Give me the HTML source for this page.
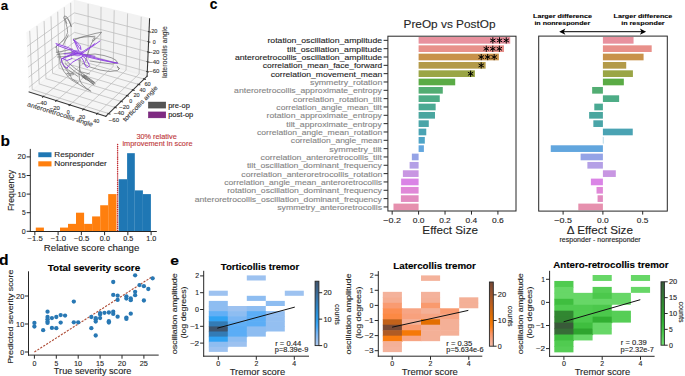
<!DOCTYPE html>
<html><head><meta charset="utf-8"><title>figure</title>
<style>html,body{margin:0;padding:0;background:#fff;} svg{display:block;} text{font-family:"Liberation Sans", sans-serif;}</style>
</head><body>
<svg width="685" height="376" viewBox="0 0 685 376" fill="#262626">
<rect x="0" y="0" width="685" height="376" fill="#fff"/>
<text x="0.65" y="9.60" font-size="13.27" font-weight="bold" fill="#000" stroke="#000" stroke-width="0.12" textLength="7.43" lengthAdjust="spacingAndGlyphs">a</text>
<text x="0.50" y="145.90" font-size="13.73" font-weight="bold" fill="#000" stroke="#000" stroke-width="0.12" textLength="9.44" lengthAdjust="spacingAndGlyphs">b</text>
<text x="209.85" y="9.30" font-size="14.23" font-weight="bold" fill="#000" stroke="#000" stroke-width="0.12" textLength="7.68" lengthAdjust="spacingAndGlyphs">c</text>
<text x="-0.93" y="264.50" font-size="13.79" font-weight="bold" fill="#000" stroke="#000" stroke-width="0.12" textLength="9.56" lengthAdjust="spacingAndGlyphs">d</text>
<text x="170.17" y="265.40" font-size="13.27" font-weight="bold" fill="#000" stroke="#000" stroke-width="0.12" textLength="8.72" lengthAdjust="spacingAndGlyphs">e</text>
<svg x="0" y="0" width="685" height="376" viewBox="0 0 493.2 270.72" overflow="visible"><g id="figure_1"> <g id="patch_1"> <path d="M 0 270.72 L 493.2 270.72 L 493.2 0 L 0 0 L 0 270.72 z " style="display:none"/> </g> <g id="patch_2"> <path d="M 13.615639 90.572908 L 112.154987 90.572908 L 112.154987 -1 M 13.615639 -1 L 13.615639 90.572908 " style="display:none"/> </g> <g id="pane3d_1"> <g id="patch_3"> <path d="M 20.960307 66.233599 L 53.797082 40.110236 L 53.373541 0.340975 L 19.036645 23.885267 " style="fill: #f2f2f2; opacity: 0.5; stroke: #f2f2f2; stroke-linejoin: miter"/> </g> </g> <g id="pane3d_2"> <g id="patch_4"> <path d="M 53.797082 40.110236 L 105.91172 54.816973 L 107.696112 13.574518 L 53.373541 0.340975 " style="fill: #e6e6e6; opacity: 0.5; stroke: #e6e6e6; stroke-linejoin: miter"/> </g> </g> <g id="pane3d_3"> <g id="patch_5"> <path d="M 20.960307 66.233599 L 76.205759 83.788677 L 105.91172 54.816973 L 53.797082 40.110236 " style="fill: #ececec; opacity: 0.5; stroke: #ececec; stroke-linejoin: miter"/> </g> </g> <g id="grid3d_1"> <g id="Line3DCollection_1"> <path d="M 31.186179 69.483024 L 63.47947 42.842603 L 63.4492 2.79551 " style="fill:none;stroke:#bcbcbc;stroke-width:0.55"/> <path d="M 40.636507 72.486009 L 72.412938 45.363626 L 72.752368 5.061859 " style="fill:none;stroke:#bcbcbc;stroke-width:0.55"/> <path d="M 50.266198 75.545989 L 81.501573 47.928436 L 82.223879 7.369217 " style="fill:none;stroke:#bcbcbc;stroke-width:0.55"/> <path d="M 60.080408 78.664603 L 90.749455 50.538186 L 91.868342 9.718708 " style="fill:none;stroke:#bcbcbc;stroke-width:0.55"/> <path d="M 70.084491 81.843552 L 100.160806 53.194067 L 101.69054 12.111498 " style="fill:none;stroke:#bcbcbc;stroke-width:0.55"/> </g> </g> <g id="grid3d_2"> <g id="Line3DCollection_2"> <path d="M 21.406861 22.260046 L 23.219245 64.436496 L 78.258046 81.787118 " style="fill:none;stroke:#bcbcbc;stroke-width:0.55"/> <path d="M 26.645919 18.667703 L 28.216392 60.461005 L 82.793447 77.36382 " style="fill:none;stroke:#bcbcbc;stroke-width:0.55"/> <path d="M 31.748505 15.168937 L 33.088743 56.584797 L 87.209497 73.056924 " style="fill:none;stroke:#bcbcbc;stroke-width:0.55"/> <path d="M 36.719883 11.760137 L 37.840914 52.804198 L 91.510846 68.861894 " style="fill:none;stroke:#bcbcbc;stroke-width:0.55"/> <path d="M 41.565051 8.437879 L 42.477297 49.115713 L 95.701904 64.774428 " style="fill:none;stroke:#bcbcbc;stroke-width:0.55"/> <path d="M 46.288753 5.198907 L 47.002075 45.516018 L 99.786861 60.790441 " style="fill:none;stroke:#bcbcbc;stroke-width:0.55"/> <path d="M 50.895502 2.040129 L 51.419228 42.001943 L 103.769695 56.906053 " style="fill:none;stroke:#bcbcbc;stroke-width:0.55"/> </g> </g> <g id="grid3d_3"> <g id="Line3DCollection_3"> <path d="M 106.05312 51.548807 L 53.763456 36.952818 L 20.808096 62.882753 " style="fill:none;stroke:#bcbcbc;stroke-width:0.55"/> <path d="M 106.356955 44.526297 L 53.691238 30.171775 L 20.480899 55.679706 " style="fill:none;stroke:#bcbcbc;stroke-width:0.55"/> <path d="M 106.665236 37.401039 L 53.618015 23.296387 L 20.148733 48.367247 " style="fill:none;stroke:#bcbcbc;stroke-width:0.55"/> <path d="M 106.97806 30.170762 L 53.543767 16.324671 L 19.811482 40.942865 " style="fill:none;stroke:#bcbcbc;stroke-width:0.55"/> <path d="M 107.29553 22.833126 L 53.468471 9.254588 L 19.46903 33.40397 " style="fill:none;stroke:#bcbcbc;stroke-width:0.55"/> </g> </g> <g id="axis3d_1"> <g id="line2d_1"> <path d="M 20.960307 66.233599 L 76.205759 83.788677 " style="fill:none;stroke:#333;stroke-width:0.75;stroke-linecap:square"/> </g> <g id="xtick_1"> <g id="line2d_2"> <path d="M 31.467825 69.250679 L 30.621654 69.94873 " style="fill:none;stroke:#333;stroke-width:0.75;stroke-linecap:square"/> </g> </g> <g id="xtick_2"> <g id="line2d_3"> <path d="M 40.913861 72.249277 L 40.080574 72.960518 " style="fill:none;stroke:#333;stroke-width:0.75;stroke-linecap:square"/> </g> </g> <g id="xtick_3"> <g id="line2d_4"> <path d="M 50.539045 75.304744 L 49.719287 76.029554 " style="fill:none;stroke:#333;stroke-width:0.75;stroke-linecap:square"/> </g> </g> <g id="xtick_4"> <g id="line2d_5"> <path d="M 60.348524 78.418715 L 59.542969 79.157485 " style="fill:none;stroke:#333;stroke-width:0.75;stroke-linecap:square"/> </g> </g> <g id="xtick_5"> <g id="line2d_6"> <path d="M 70.347641 81.592886 L 69.556995 82.346023 " style="fill:none;stroke:#333;stroke-width:0.75;stroke-linecap:square"/> </g> </g> </g> <g id="axis3d_2"> <g id="line2d_7"> <path d="M 105.91172 54.816973 L 76.205759 83.788677 " style="fill:none;stroke:#333;stroke-width:0.75;stroke-linecap:square"/> </g> <g id="xtick_6"> <g id="line2d_8"> <path d="M 77.793641 81.640718 L 79.188086 82.080307 " style="fill:none;stroke:#333;stroke-width:0.75;stroke-linecap:square"/> </g> </g> <g id="xtick_7"> <g id="line2d_9"> <path d="M 82.333257 77.221297 L 83.715031 77.64924 " style="fill:none;stroke:#333;stroke-width:0.75;stroke-linecap:square"/> </g> </g> <g id="xtick_8"> <g id="line2d_10"> <path d="M 86.753462 72.918126 L 88.122745 73.334879 " style="fill:none;stroke:#333;stroke-width:0.75;stroke-linecap:square"/> </g> </g> <g id="xtick_9"> <g id="line2d_11"> <path d="M 91.058906 68.726677 L 92.415876 69.132673 " style="fill:none;stroke:#333;stroke-width:0.75;stroke-linecap:square"/> </g> </g> <g id="xtick_10"> <g id="line2d_12"> <path d="M 95.254002 64.642655 L 96.598836 65.038306 " style="fill:none;stroke:#333;stroke-width:0.75;stroke-linecap:square"/> </g> </g> <g id="xtick_11"> <g id="line2d_13"> <path d="M 99.342937 60.661982 L 100.675811 61.047678 " style="fill:none;stroke:#333;stroke-width:0.75;stroke-linecap:square"/> </g> </g> <g id="xtick_12"> <g id="line2d_14"> <path d="M 103.329692 56.780784 L 104.65078 57.156896 " style="fill:none;stroke:#333;stroke-width:0.75;stroke-linecap:square"/> </g> </g> </g> <g id="axis3d_3"> <g id="line2d_15"> <path d="M 105.91172 54.816973 L 107.696112 13.574518 " style="fill:none;stroke:#333;stroke-width:0.75;stroke-linecap:square"/> </g> <g id="xtick_13"> <g id="line2d_16"> <path d="M 105.613701 51.426148 L 106.933032 51.794423 " style="fill:none;stroke:#333;stroke-width:0.75;stroke-linecap:square"/> </g> </g> <g id="xtick_14"> <g id="line2d_17"> <path d="M 105.914222 44.405626 L 107.243512 44.767936 " style="fill:none;stroke:#333;stroke-width:0.75;stroke-linecap:square"/> </g> </g> <g id="xtick_15"> <g id="line2d_18"> <path d="M 106.219138 37.282427 L 107.558539 37.638559 " style="fill:none;stroke:#333;stroke-width:0.75;stroke-linecap:square"/> </g> </g> <g id="xtick_16"> <g id="line2d_19"> <path d="M 106.528546 30.054282 L 107.878212 30.404013 " style="fill:none;stroke:#333;stroke-width:0.75;stroke-linecap:square"/> </g> </g> <g id="xtick_17"> <g id="line2d_20"> <path d="M 106.842546 22.718855 L 108.202637 23.061955 " style="fill:none;stroke:#333;stroke-width:0.75;stroke-linecap:square"/> </g> </g> </g> <g id="axes_1"/> </g> </svg>
<path d="M71.2 26.5 L69.6 21.5 L67.0 17.0 L64.6 15.9 L63.7 17.6 L65.6 22.0 L67.2 28.0 L67.6 32.5 L66.0 36.5 L61.5 42.0 L57.5 45.5 L55.5 47.5" fill="none" stroke="#727272" stroke-width="0.7" stroke-linejoin="round" stroke-linecap="round" />
<path d="M71.2 26.5 L70.3 24.0 L68.4 20.0 L66.2 17.8 L65.2 18.6 L66.8 23.5" fill="none" stroke="#727272" stroke-width="0.7" stroke-linejoin="round" stroke-linecap="round" />
<path d="M56.5 46.5 L57.0 52.0 L59.0 55.0 L60.3 63.6 L63.6 71.0 L68.3 76.9 L71.6 80.0 L78.3 84.0 L84.9 88.0 L90.9 91.3" fill="none" stroke="#727272" stroke-width="0.7" stroke-linejoin="round" stroke-linecap="round" />
<path d="M58.0 50.0 L61.5 60.0 L65.0 68.0 L70.0 74.5 L71.6 78.6 L78.3 83.0" fill="none" stroke="#727272" stroke-width="0.7" stroke-linejoin="round" stroke-linecap="round" />
<path d="M79.0 58.5 L79.6 68.3 L79.0 74.0 L79.6 80.0 L82.3 84.6 L86.9 88.6 L90.2 90.6" fill="none" stroke="#727272" stroke-width="0.7" stroke-linejoin="round" stroke-linecap="round" />
<path d="M73.5 40.5 L80.0 37.5 L87.6 35.5 L95.0 33.5 L101.6 32.2 L99.0 35.5 L95.5 39.0 L92.5 41.5 L91.0 44.5 L89.0 50.0 L87.0 56.0 L85.5 61.0" fill="none" stroke="#727272" stroke-width="0.7" stroke-linejoin="round" stroke-linecap="round" />
<path d="M94.3 38.0 L92.3 40.2 L93.0 41.3 L95.2 38.8 L94.3 38.0" fill="none" stroke="#727272" stroke-width="0.7" stroke-linejoin="round" stroke-linecap="round" />
<path d="M63.0 45.0 L68.3 35.0" fill="none" stroke="#727272" stroke-width="0.7" stroke-linejoin="round" stroke-linecap="round" />
<path d="M73.6 39.0 L84.0 37.0 L94.9 36.3" fill="none" stroke="#727272" stroke-width="0.7" stroke-linejoin="round" stroke-linecap="round" />
<path d="M82.0 63.0 L90.0 67.0 L100.0 70.0 L110.0 71.5 L117.5 70.5 L119.5 68.5 L117.5 67.3" fill="none" stroke="#727272" stroke-width="0.7" stroke-linejoin="round" stroke-linecap="round" />
<path d="M117.2 66.0 L119.0 68.5 L118.5 69.5" fill="none" stroke="#727272" stroke-width="0.7" stroke-linejoin="round" stroke-linecap="round" />
<path d="M84.0 55.0 L95.0 54.0 L104.0 55.5 L112.0 58.0 L116.0 60.3 L117.5 62.8 L112.0 64.0 L100.0 62.5 L90.0 61.0" fill="none" stroke="#727272" stroke-width="0.7" stroke-linejoin="round" stroke-linecap="round" />
<path d="M65.0 63.6 L70.0 67.5 L75.0 71.6 L80.0 74.8 L84.9 77.6 L89.0 81.0" fill="none" stroke="#727272" stroke-width="0.7" stroke-linejoin="round" stroke-linecap="round" />
<path d="M66.5 61.0 L71.0 65.0 L76.5 69.5 L82.0 73.0 L87.0 76.5" fill="none" stroke="#727272" stroke-width="0.7" stroke-linejoin="round" stroke-linecap="round" />
<path d="M63.5 66.0 L68.5 70.0 L73.0 73.0 L78.0 76.5" fill="none" stroke="#727272" stroke-width="0.7" stroke-linejoin="round" stroke-linecap="round" />
<path d="M56.3 52.3 L64.0 51.0 L72.3 49.0" fill="none" stroke="#727272" stroke-width="0.7" stroke-linejoin="round" stroke-linecap="round" />
<path d="M57.0 54.5 L65.0 53.5 L73.0 52.0" fill="none" stroke="#727272" stroke-width="0.7" stroke-linejoin="round" stroke-linecap="round" />
<path d="M57.5 57.0 L66.0 56.5 L74.0 55.0" fill="none" stroke="#727272" stroke-width="0.7" stroke-linejoin="round" stroke-linecap="round" />
<path d="M67.0 73.3 L73.0 73.3 L73.6 74.6 L69.0 75.3 L67.0 73.3" fill="none" stroke="#727272" stroke-width="0.7" stroke-linejoin="round" stroke-linecap="round" />
<path d="M81.6 72.0 L85.0 72.8 L89.6 74.0" fill="none" stroke="#727272" stroke-width="0.7" stroke-linejoin="round" stroke-linecap="round" />
<path d="M80.2 59.0 L79.6 68.3 L81.6 75.0 L86.0 80.0" fill="none" stroke="#727272" stroke-width="0.7" stroke-linejoin="round" stroke-linecap="round" />
<path d="M82.5 75.8 L86.0 77.5 L89.5 80.0 L93.8 83.3" fill="none" stroke="#666" stroke-width="0.7" stroke-linejoin="round" stroke-linecap="round" />
<path d="M83.3 74.9 L86.8 76.6 L90.3 79.1 L94.6 82.4" fill="none" stroke="#666" stroke-width="0.7" stroke-linejoin="round" stroke-linecap="round" />
<path d="M81.9 76.6 L85.4 78.3 L88.9 80.8 L93.2 84.1" fill="none" stroke="#666" stroke-width="0.7" stroke-linejoin="round" stroke-linecap="round" />
<path d="M83.9 76.1 L87.4 77.8 L90.9 80.3 L95.2 83.6" fill="none" stroke="#666" stroke-width="0.7" stroke-linejoin="round" stroke-linecap="round" />
<path d="M82.8 77.3 L86.3 79.0 L89.8 81.5 L94.1 84.8" fill="none" stroke="#666" stroke-width="0.7" stroke-linejoin="round" stroke-linecap="round" />
<path d="M56.0 43.6 L62.0 45.5 L68.3 47.6 L74.9 51.0 L78.0 53.0" fill="none" stroke="#8b3be0" stroke-width="0.9" stroke-linejoin="round" stroke-linecap="round" />
<path d="M56.5 45.0 L63.0 47.5 L70.3 50.0 L76.0 53.5" fill="none" stroke="#8b3be0" stroke-width="0.9" stroke-linejoin="round" stroke-linecap="round" />
<path d="M73.3 39.3 L75.5 42.0 L76.9 44.3 L79.0 47.5 L80.9 49.6 L80.5 46.5 L79.6 45.0 L76.0 41.5 L73.6 39.8" fill="none" stroke="#8b3be0" stroke-width="0.9" stroke-linejoin="round" stroke-linecap="round" />
<path d="M74.5 41.5 L76.5 46.0 L78.5 50.5" fill="none" stroke="#8b3be0" stroke-width="0.9" stroke-linejoin="round" stroke-linecap="round" />
<path d="M94.9 43.6 L91.5 46.0 L88.2 48.3 L84.5 50.5 L81.6 52.3" fill="none" stroke="#8b3be0" stroke-width="0.9" stroke-linejoin="round" stroke-linecap="round" />
<path d="M99.9 41.0 L95.0 44.5 L90.0 48.0 L85.0 51.5 L80.0 54.5" fill="none" stroke="#8b3be0" stroke-width="0.9" stroke-linejoin="round" stroke-linecap="round" />
<path d="M80.0 54.0 L90.0 56.5 L100.0 59.0 L110.0 61.5 L117.8 63.2" fill="none" stroke="#8b3be0" stroke-width="0.9" stroke-linejoin="round" stroke-linecap="round" />
<path d="M82.0 55.5 L92.0 58.0 L102.0 60.3 L112.0 62.3 L117.0 63.0" fill="none" stroke="#8b3be0" stroke-width="0.9" stroke-linejoin="round" stroke-linecap="round" />
<path d="M61.6 59.0 L61.3 61.6 L63.6 65.6 L67.3 68.3 L67.6 67.0 L72.3 62.3 L76.9 59.7 L82.9 56.3" fill="none" stroke="#8b3be0" stroke-width="0.9" stroke-linejoin="round" stroke-linecap="round" />
<path d="M61.6 59.0 L66.0 57.0 L70.3 55.7 L76.0 54.0" fill="none" stroke="#8b3be0" stroke-width="0.9" stroke-linejoin="round" stroke-linecap="round" />
<path d="M62.5 58.5 L67.0 60.5 L72.0 58.5" fill="none" stroke="#8b3be0" stroke-width="0.9" stroke-linejoin="round" stroke-linecap="round" />
<path d="M82.9 56.3 L85.5 58.5 L87.6 61.6 L89.6 65.6 L87.6 67.6 L85.6 66.3 L83.6 61.0 L81.5 57.5" fill="none" stroke="#8b3be0" stroke-width="0.9" stroke-linejoin="round" stroke-linecap="round" />
<path d="M64.1 53.8 L72.0 53.8 L82.2 53.3" fill="none" stroke="#8b3be0" stroke-width="0.9" stroke-linejoin="round" stroke-linecap="round" />
<path d="M71.6 54.3 L66.0 56.5 L61.6 59.0" fill="none" stroke="#8b3be0" stroke-width="0.9" stroke-linejoin="round" stroke-linecap="round" />
<path d="M82.9 54.3 L89.0 55.3 L94.9 56.3" fill="none" stroke="#8b3be0" stroke-width="0.9" stroke-linejoin="round" stroke-linecap="round" />
<path d="M71.8 50.8 Q76.5 48.8 82.3 51.8 Q83.5 54.3 80.0 55.9 Q75.0 56.8 72.2 54.8 Q70.6 52.6 71.8 50.8 Z" fill="#8b3be0" opacity="0.6"/>
<text x="36.65" y="105.10" font-size="5.15" fill="#3a3a3a" stroke="#3a3a3a" stroke-width="0.12" textLength="10.22" lengthAdjust="spacingAndGlyphs">−40</text>
<text x="49.75" y="109.70" font-size="5.15" fill="#3a3a3a" stroke="#3a3a3a" stroke-width="0.12" textLength="10.22" lengthAdjust="spacingAndGlyphs">−20</text>
<text x="66.72" y="113.70" font-size="5.15" fill="#3a3a3a" stroke="#3a3a3a" stroke-width="0.12" textLength="2.93" lengthAdjust="spacingAndGlyphs">0</text>
<text x="78.99" y="118.70" font-size="5.15" fill="#3a3a3a" stroke="#3a3a3a" stroke-width="0.12" textLength="6.16" lengthAdjust="spacingAndGlyphs">20</text>
<text x="93.26" y="122.90" font-size="5.15" fill="#3a3a3a" stroke="#3a3a3a" stroke-width="0.12" textLength="6.09" lengthAdjust="spacingAndGlyphs">40</text>
<text x="108.85" y="121.50" font-size="5.15" fill="#3a3a3a" stroke="#3a3a3a" stroke-width="0.12" textLength="10.22" lengthAdjust="spacingAndGlyphs">−60</text>
<text x="113.95" y="115.30" font-size="5.15" fill="#3a3a3a" stroke="#3a3a3a" stroke-width="0.12" textLength="10.22" lengthAdjust="spacingAndGlyphs">−40</text>
<text x="119.15" y="109.00" font-size="5.15" fill="#3a3a3a" stroke="#3a3a3a" stroke-width="0.12" textLength="10.22" lengthAdjust="spacingAndGlyphs">−20</text>
<text x="129.22" y="103.20" font-size="5.15" fill="#3a3a3a" stroke="#3a3a3a" stroke-width="0.12" textLength="2.93" lengthAdjust="spacingAndGlyphs">0</text>
<text x="133.49" y="97.30" font-size="5.15" fill="#3a3a3a" stroke="#3a3a3a" stroke-width="0.12" textLength="6.16" lengthAdjust="spacingAndGlyphs">20</text>
<text x="139.46" y="91.50" font-size="5.15" fill="#3a3a3a" stroke="#3a3a3a" stroke-width="0.12" textLength="6.09" lengthAdjust="spacingAndGlyphs">40</text>
<text x="144.49" y="85.60" font-size="5.15" fill="#3a3a3a" stroke="#3a3a3a" stroke-width="0.12" textLength="6.16" lengthAdjust="spacingAndGlyphs">60</text>
<text x="151.19" y="33.40" font-size="5.15" fill="#3a3a3a" stroke="#3a3a3a" stroke-width="0.12" textLength="6.16" lengthAdjust="spacingAndGlyphs">20</text>
<text x="152.82" y="43.60" font-size="5.15" fill="#3a3a3a" stroke="#3a3a3a" stroke-width="0.12" textLength="2.93" lengthAdjust="spacingAndGlyphs">0</text>
<text x="149.25" y="53.60" font-size="5.15" fill="#3a3a3a" stroke="#3a3a3a" stroke-width="0.12" textLength="10.22" lengthAdjust="spacingAndGlyphs">−20</text>
<text x="149.25" y="63.70" font-size="5.15" fill="#3a3a3a" stroke="#3a3a3a" stroke-width="0.12" textLength="10.22" lengthAdjust="spacingAndGlyphs">−40</text>
<text x="149.25" y="73.20" font-size="5.15" fill="#3a3a3a" stroke="#3a3a3a" stroke-width="0.12" textLength="10.22" lengthAdjust="spacingAndGlyphs">−60</text>
<text x="25.24" y="116.30" font-size="6.28" fill="#3a3a3a" stroke="#3a3a3a" stroke-width="0.12" textLength="68.57" lengthAdjust="spacingAndGlyphs" transform="rotate(17.5 59.53 116.30)">anteroretrocollis angle</text>
<text x="118.38" y="105.10" font-size="6.28" fill="#3a3a3a" stroke="#3a3a3a" stroke-width="0.12" textLength="46.87" lengthAdjust="spacingAndGlyphs" transform="rotate(-46 141.73 105.10)">torticollis angle</text>
<text x="141.28" y="52.00" font-size="6.28" fill="#3a3a3a" stroke="#3a3a3a" stroke-width="0.12" textLength="51.72" lengthAdjust="spacingAndGlyphs" transform="rotate(-90 167.23 52.00)">laterocollis angle</text>
<rect x="148.30" y="102.00" width="17.50" height="6.10" fill="#555555" stroke="#444" stroke-width="0.4"/>
<rect x="148.30" y="111.90" width="17.50" height="6.00" fill="#7f2a82" stroke="#6a2070" stroke-width="0.4"/>
<text x="168.21" y="107.70" font-size="6.87" fill="#222" stroke="#222" stroke-width="0.12" textLength="21.59" lengthAdjust="spacingAndGlyphs">pre-op</text>
<text x="168.21" y="117.40" font-size="6.86" fill="#222" stroke="#222" stroke-width="0.12" textLength="25.03" lengthAdjust="spacingAndGlyphs">post-op</text>
<rect x="35.80" y="227.58" width="8.10" height="3.72" fill="#ff7f0e" />
<rect x="60.00" y="227.58" width="8.00" height="3.72" fill="#ff7f0e" />
<rect x="68.00" y="223.86" width="8.00" height="7.44" fill="#ff7f0e" />
<rect x="76.00" y="212.70" width="8.10" height="18.60" fill="#ff7f0e" />
<rect x="84.10" y="223.86" width="8.00" height="7.44" fill="#ff7f0e" />
<rect x="92.10" y="216.42" width="8.10" height="14.88" fill="#ff7f0e" />
<rect x="100.20" y="205.26" width="8.00" height="26.04" fill="#ff7f0e" />
<rect x="108.20" y="194.10" width="8.30" height="37.20" fill="#ff7f0e" />
<rect x="118.70" y="179.22" width="8.40" height="52.08" fill="#1f77b4" />
<rect x="127.10" y="153.18" width="7.70" height="78.12" fill="#1f77b4" />
<rect x="134.80" y="190.38" width="8.10" height="40.92" fill="#1f77b4" />
<rect x="142.90" y="194.10" width="8.00" height="37.20" fill="#1f77b4" />
<line x1="117.60" y1="144.50" x2="117.60" y2="231.30" stroke="#c0282d" stroke-width="1.5" stroke-dasharray="0.01 1.9" stroke-linecap="round"/>
<line x1="30.30" y1="148.90" x2="30.30" y2="232.00" stroke="#262626" stroke-width="1.0" />
<line x1="29.80" y1="231.50" x2="156.80" y2="231.50" stroke="#262626" stroke-width="1.0" />
<line x1="26.60" y1="231.30" x2="30.30" y2="231.30" stroke="#262626" stroke-width="1.0" />
<text x="21.83" y="233.70" font-size="6.90" stroke="#262626" stroke-width="0.12" textLength="3.92" lengthAdjust="spacingAndGlyphs">0</text>
<line x1="26.60" y1="212.70" x2="30.30" y2="212.70" stroke="#262626" stroke-width="1.0" />
<text x="22.05" y="215.10" font-size="6.90" stroke="#262626" stroke-width="0.12" textLength="3.73" lengthAdjust="spacingAndGlyphs">5</text>
<line x1="26.60" y1="194.10" x2="30.30" y2="194.10" stroke="#262626" stroke-width="1.0" />
<text x="17.61" y="196.50" font-size="6.90" stroke="#262626" stroke-width="0.12" textLength="8.16" lengthAdjust="spacingAndGlyphs">10</text>
<line x1="26.60" y1="175.50" x2="30.30" y2="175.50" stroke="#262626" stroke-width="1.0" />
<text x="17.75" y="177.90" font-size="6.90" stroke="#262626" stroke-width="0.12" textLength="8.05" lengthAdjust="spacingAndGlyphs">15</text>
<line x1="26.60" y1="156.90" x2="30.30" y2="156.90" stroke="#262626" stroke-width="1.0" />
<text x="17.52" y="159.30" font-size="6.90" stroke="#262626" stroke-width="0.12" textLength="8.25" lengthAdjust="spacingAndGlyphs">20</text>
<line x1="34.85" y1="231.50" x2="34.85" y2="235.20" stroke="#262626" stroke-width="1.0" />
<text x="27.50" y="240.90" font-size="6.70" stroke="#262626" stroke-width="0.12" textLength="15.21" lengthAdjust="spacingAndGlyphs">−1.5</text>
<line x1="58.10" y1="231.50" x2="58.10" y2="235.20" stroke="#262626" stroke-width="1.0" />
<text x="50.68" y="240.90" font-size="6.70" stroke="#262626" stroke-width="0.12" textLength="15.31" lengthAdjust="spacingAndGlyphs">−1.0</text>
<line x1="81.35" y1="231.50" x2="81.35" y2="235.20" stroke="#262626" stroke-width="1.0" />
<text x="74.00" y="240.90" font-size="6.70" stroke="#262626" stroke-width="0.12" textLength="15.21" lengthAdjust="spacingAndGlyphs">−0.5</text>
<line x1="104.60" y1="231.50" x2="104.60" y2="235.20" stroke="#262626" stroke-width="1.0" />
<text x="99.87" y="240.90" font-size="6.70" stroke="#262626" stroke-width="0.12" textLength="10.03" lengthAdjust="spacingAndGlyphs">0.0</text>
<line x1="127.85" y1="231.50" x2="127.85" y2="235.20" stroke="#262626" stroke-width="1.0" />
<text x="123.18" y="240.90" font-size="6.70" stroke="#262626" stroke-width="0.12" textLength="9.93" lengthAdjust="spacingAndGlyphs">0.5</text>
<line x1="151.10" y1="231.50" x2="151.10" y2="235.20" stroke="#262626" stroke-width="1.0" />
<text x="146.26" y="240.90" font-size="6.70" stroke="#262626" stroke-width="0.12" textLength="9.99" lengthAdjust="spacingAndGlyphs">1.0</text>
<text x="43.83" y="251.00" font-size="8.92" stroke="#262626" stroke-width="0.12" textLength="95.46" lengthAdjust="spacingAndGlyphs">Relative score change</text>
<text x="-6.40" y="190.10" font-size="8.24" stroke="#262626" stroke-width="0.12" textLength="41.01" lengthAdjust="spacingAndGlyphs" transform="rotate(-90 14.46 190.10)">Frequency</text>
<rect x="38.30" y="152.30" width="13.20" height="4.90" fill="#1f77b4" />
<rect x="38.30" y="161.30" width="13.20" height="5.10" fill="#ff7f0e" />
<text x="54.25" y="156.50" font-size="7.70" stroke="#262626" stroke-width="0.12" textLength="39.85" lengthAdjust="spacingAndGlyphs">Responder</text>
<text x="54.24" y="165.50" font-size="7.67" stroke="#262626" stroke-width="0.12" textLength="52.66" lengthAdjust="spacingAndGlyphs">Nonresponder</text>
<text x="136.44" y="139.00" font-size="6.61" fill="#c0393b" stroke="#c0393b" stroke-width="0.12" textLength="40.27" lengthAdjust="spacingAndGlyphs">30% relative</text>
<text x="122.42" y="146.40" font-size="6.61" fill="#c0393b" stroke="#c0393b" stroke-width="0.12" textLength="70.07" lengthAdjust="spacingAndGlyphs">improvement in score</text>
<rect x="418.60" y="37.00" width="91.61" height="6.67" fill="#e8919e" />
<line x1="383.60" y1="40.34" x2="387.90" y2="40.34" stroke="#262626" stroke-width="1.0" />
<text x="267.40" y="43.34" font-size="7.88" stroke="#262626" stroke-width="0.12" textLength="114.75" lengthAdjust="spacingAndGlyphs">rotation_oscillation_amplitude</text>
<rect x="418.60" y="45.33" width="85.40" height="6.67" fill="#e8908a" />
<line x1="383.60" y1="48.66" x2="387.90" y2="48.66" stroke="#262626" stroke-width="1.0" />
<text x="287.11" y="51.66" font-size="7.88" stroke="#262626" stroke-width="0.12" textLength="95.03" lengthAdjust="spacingAndGlyphs">tilt_oscillation_amplitude</text>
<rect x="418.60" y="53.66" width="80.25" height="6.67" fill="#c8924a" />
<line x1="383.60" y1="56.99" x2="387.90" y2="56.99" stroke="#262626" stroke-width="1.0" />
<text x="234.92" y="59.99" font-size="7.88" stroke="#262626" stroke-width="0.12" textLength="147.22" lengthAdjust="spacingAndGlyphs">anteroretrocollis_oscillation_amplitude</text>
<rect x="418.60" y="61.99" width="67.03" height="6.67" fill="#b39a48" />
<line x1="383.60" y1="65.33" x2="387.90" y2="65.33" stroke="#262626" stroke-width="1.0" />
<text x="262.73" y="68.33" font-size="7.88" stroke="#262626" stroke-width="0.12" textLength="119.57" lengthAdjust="spacingAndGlyphs">correlation_mean_face_forward</text>
<rect x="418.60" y="70.32" width="56.32" height="6.67" fill="#9aa545" />
<line x1="383.60" y1="73.65" x2="387.90" y2="73.65" stroke="#262626" stroke-width="1.0" />
<text x="270.76" y="76.65" font-size="7.88" stroke="#262626" stroke-width="0.12" textLength="111.57" lengthAdjust="spacingAndGlyphs">correlation_movement_mean</text>
<rect x="418.60" y="78.65" width="36.62" height="6.67" fill="#5aab45" />
<line x1="383.60" y1="81.98" x2="387.90" y2="81.98" stroke="#262626" stroke-width="1.0" />
<text x="310.01" y="84.98" font-size="7.88" fill="#868686" stroke="#868686" stroke-width="0.12" textLength="72.31" lengthAdjust="spacingAndGlyphs">symmetry_rotation</text>
<rect x="418.60" y="86.98" width="24.19" height="6.67" fill="#52ad72" />
<line x1="383.60" y1="90.31" x2="387.90" y2="90.31" stroke="#262626" stroke-width="1.0" />
<text x="234.11" y="93.31" font-size="7.88" fill="#868686" stroke="#868686" stroke-width="0.12" textLength="147.69" lengthAdjust="spacingAndGlyphs">anteroretrocollis_approximate_entropy</text>
<rect x="418.60" y="95.31" width="21.15" height="6.67" fill="#4dac86" />
<line x1="383.60" y1="98.64" x2="387.90" y2="98.64" stroke="#262626" stroke-width="1.0" />
<text x="293.09" y="101.64" font-size="7.88" fill="#868686" stroke="#868686" stroke-width="0.12" textLength="88.77" lengthAdjust="spacingAndGlyphs">correlation_rotation_tilt</text>
<rect x="418.60" y="103.64" width="17.05" height="6.67" fill="#4aa993" />
<line x1="383.60" y1="106.97" x2="387.90" y2="106.97" stroke="#262626" stroke-width="1.0" />
<text x="276.35" y="109.97" font-size="7.88" fill="#868686" stroke="#868686" stroke-width="0.12" textLength="105.51" lengthAdjust="spacingAndGlyphs">correlation_angle_mean_tilt</text>
<rect x="418.60" y="111.97" width="16.39" height="6.67" fill="#4aa69f" />
<line x1="383.60" y1="115.30" x2="387.90" y2="115.30" stroke="#262626" stroke-width="1.0" />
<text x="266.60" y="118.30" font-size="7.88" fill="#868686" stroke="#868686" stroke-width="0.12" textLength="115.21" lengthAdjust="spacingAndGlyphs">rotation_approximate_entropy</text>
<rect x="418.60" y="120.30" width="10.18" height="6.67" fill="#4aa5a8" />
<line x1="383.60" y1="123.63" x2="387.90" y2="123.63" stroke="#262626" stroke-width="1.0" />
<text x="286.27" y="126.63" font-size="7.88" fill="#868686" stroke="#868686" stroke-width="0.12" textLength="95.54" lengthAdjust="spacingAndGlyphs">tilt_approximate_entropy</text>
<rect x="418.60" y="128.63" width="7.67" height="6.67" fill="#4aa3b3" />
<line x1="383.60" y1="131.97" x2="387.90" y2="131.97" stroke="#262626" stroke-width="1.0" />
<text x="257.07" y="134.97" font-size="7.88" fill="#868686" stroke="#868686" stroke-width="0.12" textLength="125.26" lengthAdjust="spacingAndGlyphs">correlation_angle_mean_rotation</text>
<rect x="418.60" y="136.96" width="6.21" height="6.67" fill="#4ea4c6" />
<line x1="383.60" y1="140.30" x2="387.90" y2="140.30" stroke="#262626" stroke-width="1.0" />
<text x="290.88" y="143.30" font-size="7.88" fill="#868686" stroke="#868686" stroke-width="0.12" textLength="91.43" lengthAdjust="spacingAndGlyphs">correlation_angle_mean</text>
<rect x="418.60" y="145.29" width="5.29" height="6.67" fill="#62a6de" />
<line x1="383.60" y1="148.63" x2="387.90" y2="148.63" stroke="#262626" stroke-width="1.0" />
<text x="329.29" y="151.63" font-size="7.88" fill="#868686" stroke="#868686" stroke-width="0.12" textLength="52.59" lengthAdjust="spacingAndGlyphs">symmetry_tilt</text>
<rect x="411.86" y="153.62" width="6.74" height="6.67" fill="#95a3e6" />
<line x1="383.60" y1="156.96" x2="387.90" y2="156.96" stroke="#262626" stroke-width="1.0" />
<text x="260.62" y="159.96" font-size="7.88" fill="#868686" stroke="#868686" stroke-width="0.12" textLength="121.23" lengthAdjust="spacingAndGlyphs">correlation_anteroretrocollis_tilt</text>
<rect x="409.61" y="161.95" width="8.99" height="6.67" fill="#b4a0e6" />
<line x1="383.60" y1="165.28" x2="387.90" y2="165.28" stroke="#262626" stroke-width="1.0" />
<text x="246.92" y="168.28" font-size="7.88" fill="#868686" stroke="#868686" stroke-width="0.12" textLength="134.89" lengthAdjust="spacingAndGlyphs">tilt_oscillation_dominant_frequency</text>
<rect x="402.87" y="170.28" width="15.73" height="6.67" fill="#c896e2" />
<line x1="383.60" y1="173.62" x2="387.90" y2="173.62" stroke="#262626" stroke-width="1.0" />
<text x="241.34" y="176.62" font-size="7.88" fill="#868686" stroke="#868686" stroke-width="0.12" textLength="140.99" lengthAdjust="spacingAndGlyphs">correlation_anteroretrocollis_rotation</text>
<rect x="401.15" y="178.61" width="17.45" height="6.67" fill="#da84e6" />
<line x1="383.60" y1="181.95" x2="387.90" y2="181.95" stroke="#262626" stroke-width="1.0" />
<text x="224.29" y="184.95" font-size="7.88" fill="#868686" stroke="#868686" stroke-width="0.12" textLength="157.82" lengthAdjust="spacingAndGlyphs">correlation_angle_mean_anteroretrocollis</text>
<rect x="400.89" y="186.94" width="17.71" height="6.67" fill="#e088d8" />
<line x1="383.60" y1="190.28" x2="387.90" y2="190.28" stroke="#262626" stroke-width="1.0" />
<text x="227.24" y="193.28" font-size="7.88" fill="#868686" stroke="#868686" stroke-width="0.12" textLength="154.56" lengthAdjust="spacingAndGlyphs">rotation_oscillation_dominant_frequency</text>
<rect x="400.89" y="195.27" width="17.71" height="6.67" fill="#e28cc0" />
<line x1="383.60" y1="198.61" x2="387.90" y2="198.61" stroke="#262626" stroke-width="1.0" />
<text x="194.72" y="201.61" font-size="7.88" fill="#868686" stroke="#868686" stroke-width="0.12" textLength="187.08" lengthAdjust="spacingAndGlyphs">anteroretrocollis_oscillation_dominant_frequency</text>
<rect x="393.48" y="203.60" width="25.12" height="6.67" fill="#e690ae" />
<line x1="383.60" y1="206.94" x2="387.90" y2="206.94" stroke="#262626" stroke-width="1.0" />
<text x="277.24" y="209.94" font-size="7.88" fill="#868686" stroke="#868686" stroke-width="0.12" textLength="104.86" lengthAdjust="spacingAndGlyphs">symmetry_anteroretrocollis</text>
<line x1="492.85" y1="37.34" x2="492.85" y2="43.54" stroke="#000" stroke-width="1.0"/>
<line x1="495.53" y1="38.88" x2="490.17" y2="41.99" stroke="#000" stroke-width="1.0"/>
<line x1="495.53" y1="41.98" x2="490.17" y2="38.89" stroke="#000" stroke-width="1.0"/>
<line x1="499.55" y1="37.34" x2="499.55" y2="43.54" stroke="#000" stroke-width="1.0"/>
<line x1="502.23" y1="38.88" x2="496.87" y2="41.99" stroke="#000" stroke-width="1.0"/>
<line x1="502.23" y1="41.98" x2="496.87" y2="38.89" stroke="#000" stroke-width="1.0"/>
<line x1="506.25" y1="37.34" x2="506.25" y2="43.54" stroke="#000" stroke-width="1.0"/>
<line x1="508.93" y1="38.88" x2="503.57" y2="41.99" stroke="#000" stroke-width="1.0"/>
<line x1="508.93" y1="41.98" x2="503.57" y2="38.89" stroke="#000" stroke-width="1.0"/>
<line x1="486.27" y1="45.66" x2="486.27" y2="51.87" stroke="#000" stroke-width="1.0"/>
<line x1="488.95" y1="47.21" x2="483.58" y2="50.32" stroke="#000" stroke-width="1.0"/>
<line x1="488.95" y1="50.31" x2="483.58" y2="47.22" stroke="#000" stroke-width="1.0"/>
<line x1="492.80" y1="45.66" x2="492.80" y2="51.87" stroke="#000" stroke-width="1.0"/>
<line x1="495.48" y1="47.21" x2="490.12" y2="50.32" stroke="#000" stroke-width="1.0"/>
<line x1="495.48" y1="50.31" x2="490.12" y2="47.22" stroke="#000" stroke-width="1.0"/>
<line x1="499.33" y1="45.66" x2="499.33" y2="51.87" stroke="#000" stroke-width="1.0"/>
<line x1="502.02" y1="47.21" x2="496.65" y2="50.32" stroke="#000" stroke-width="1.0"/>
<line x1="502.02" y1="50.31" x2="496.65" y2="47.22" stroke="#000" stroke-width="1.0"/>
<line x1="481.23" y1="53.99" x2="481.23" y2="60.20" stroke="#000" stroke-width="1.0"/>
<line x1="483.92" y1="55.54" x2="478.55" y2="58.65" stroke="#000" stroke-width="1.0"/>
<line x1="483.92" y1="58.64" x2="478.55" y2="55.55" stroke="#000" stroke-width="1.0"/>
<line x1="487.70" y1="53.99" x2="487.70" y2="60.20" stroke="#000" stroke-width="1.0"/>
<line x1="490.38" y1="55.54" x2="485.02" y2="58.65" stroke="#000" stroke-width="1.0"/>
<line x1="490.38" y1="58.64" x2="485.02" y2="55.55" stroke="#000" stroke-width="1.0"/>
<line x1="494.17" y1="53.99" x2="494.17" y2="60.20" stroke="#000" stroke-width="1.0"/>
<line x1="496.85" y1="55.54" x2="491.48" y2="58.65" stroke="#000" stroke-width="1.0"/>
<line x1="496.85" y1="58.64" x2="491.48" y2="55.55" stroke="#000" stroke-width="1.0"/>
<line x1="481.20" y1="62.32" x2="481.20" y2="68.52" stroke="#000" stroke-width="1.0"/>
<line x1="483.88" y1="63.87" x2="478.52" y2="66.97" stroke="#000" stroke-width="1.0"/>
<line x1="483.88" y1="66.97" x2="478.52" y2="63.88" stroke="#000" stroke-width="1.0"/>
<line x1="470.60" y1="70.65" x2="470.60" y2="76.85" stroke="#000" stroke-width="1.0"/>
<line x1="473.28" y1="72.20" x2="467.92" y2="75.30" stroke="#000" stroke-width="1.0"/>
<line x1="473.28" y1="75.30" x2="467.92" y2="72.20" stroke="#000" stroke-width="1.0"/>
<rect x="387.9" y="36.2" width="128.10" height="174.80" fill="none" stroke="#262626" stroke-width="1.0"/>
<line x1="392.16" y1="211.00" x2="392.16" y2="214.60" stroke="#262626" stroke-width="1.0" />
<text x="383.30" y="222.60" font-size="7.81" stroke="#262626" stroke-width="0.12" textLength="17.72" lengthAdjust="spacingAndGlyphs">−0.2</text>
<line x1="418.60" y1="211.00" x2="418.60" y2="214.60" stroke="#262626" stroke-width="1.0" />
<text x="412.73" y="222.60" font-size="7.81" stroke="#262626" stroke-width="0.12" textLength="11.70" lengthAdjust="spacingAndGlyphs">0.0</text>
<line x1="445.04" y1="211.00" x2="445.04" y2="214.60" stroke="#262626" stroke-width="1.0" />
<text x="439.17" y="222.60" font-size="7.81" stroke="#262626" stroke-width="0.12" textLength="11.55" lengthAdjust="spacingAndGlyphs">0.2</text>
<line x1="471.48" y1="211.00" x2="471.48" y2="214.60" stroke="#262626" stroke-width="1.0" />
<text x="465.61" y="222.60" font-size="7.81" stroke="#262626" stroke-width="0.12" textLength="11.69" lengthAdjust="spacingAndGlyphs">0.4</text>
<line x1="497.92" y1="211.00" x2="497.92" y2="214.60" stroke="#262626" stroke-width="1.0" />
<text x="492.05" y="222.60" font-size="7.81" stroke="#262626" stroke-width="0.12" textLength="11.78" lengthAdjust="spacingAndGlyphs">0.6</text>
<text x="422.37" y="234.20" font-size="10.94" stroke="#262626" stroke-width="0.12" textLength="55.62" lengthAdjust="spacingAndGlyphs">Effect Size</text>
<text x="403.55" y="27.60" font-size="11.47" stroke="#262626" stroke-width="0.12" textLength="91.93" lengthAdjust="spacingAndGlyphs">PreOp vs PostOp</text>
<rect x="602.90" y="37.00" width="30.65" height="6.67" fill="#e8919e" />
<rect x="602.90" y="45.33" width="48.79" height="6.67" fill="#e8908a" />
<rect x="602.90" y="53.66" width="40.68" height="6.67" fill="#c8924a" />
<rect x="602.90" y="61.99" width="23.32" height="6.67" fill="#b39a48" />
<rect x="602.90" y="70.32" width="30.01" height="6.67" fill="#9aa545" />
<rect x="602.90" y="78.65" width="20.93" height="6.67" fill="#5aab45" />
<rect x="592.15" y="86.98" width="10.75" height="6.67" fill="#52ad72" />
<rect x="602.90" y="95.31" width="16.24" height="6.67" fill="#4dac86" />
<rect x="594.30" y="103.64" width="8.60" height="6.67" fill="#4aa993" />
<rect x="589.13" y="111.97" width="13.77" height="6.67" fill="#4aa69f" />
<rect x="593.35" y="120.30" width="9.55" height="6.67" fill="#4aa5a8" />
<rect x="602.90" y="128.63" width="29.85" height="6.67" fill="#4aa3b3" />
<rect x="602.90" y="136.96" width="0.40" height="6.67" fill="#4ea4c6" />
<rect x="550.76" y="145.29" width="52.14" height="6.67" fill="#62a6de" />
<rect x="580.61" y="153.62" width="22.29" height="6.67" fill="#95a3e6" />
<rect x="587.38" y="161.95" width="15.52" height="6.67" fill="#b4a0e6" />
<rect x="602.90" y="170.28" width="12.90" height="6.67" fill="#c896e2" />
<rect x="590.88" y="178.61" width="12.02" height="6.67" fill="#da84e6" />
<rect x="596.53" y="186.94" width="6.37" height="6.67" fill="#e088d8" />
<rect x="597.57" y="195.27" width="5.33" height="6.67" fill="#e28cc0" />
<rect x="578.30" y="203.60" width="24.60" height="6.67" fill="#e690ae" />
<rect x="538.7" y="36.1" width="128.60" height="175.00" fill="none" stroke="#262626" stroke-width="1.0"/>
<line x1="563.10" y1="211.10" x2="563.10" y2="214.60" stroke="#262626" stroke-width="1.0" />
<text x="554.24" y="222.60" font-size="7.81" stroke="#262626" stroke-width="0.12" textLength="17.74" lengthAdjust="spacingAndGlyphs">−0.5</text>
<line x1="602.90" y1="211.10" x2="602.90" y2="214.60" stroke="#262626" stroke-width="1.0" />
<text x="597.03" y="222.60" font-size="7.81" stroke="#262626" stroke-width="0.12" textLength="11.70" lengthAdjust="spacingAndGlyphs">0.0</text>
<line x1="642.70" y1="211.10" x2="642.70" y2="214.60" stroke="#262626" stroke-width="1.0" />
<text x="636.83" y="222.60" font-size="7.81" stroke="#262626" stroke-width="0.12" textLength="11.58" lengthAdjust="spacingAndGlyphs">0.5</text>
<text x="566.85" y="234.20" font-size="10.84" stroke="#262626" stroke-width="0.12" textLength="66.05" lengthAdjust="spacingAndGlyphs">Δ Effect Size</text>
<text x="559.54" y="241.90" font-size="6.43" stroke="#262626" stroke-width="0.12" textLength="81.15" lengthAdjust="spacingAndGlyphs">responder - nonresponder</text>
<line x1="562.50" y1="31.70" x2="642.80" y2="31.70" stroke="#000" stroke-width="1.0" />
<path d="M559.2 31.7 L565.4 28.6 L563.8 31.7 L565.4 34.8 Z" fill="#000"/>
<path d="M646.1 31.7 L639.9 28.6 L641.5 31.7 L639.9 34.8 Z" fill="#000"/>
<text x="533.13" y="17.70" font-size="6.24" font-weight="bold" fill="#000" stroke="#000" stroke-width="0.12" textLength="58.88" lengthAdjust="spacingAndGlyphs">Larger difference</text>
<text x="534.40" y="25.10" font-size="6.18" font-weight="bold" fill="#000" stroke="#000" stroke-width="0.12" textLength="55.80" lengthAdjust="spacingAndGlyphs">in nonresponder</text>
<text x="613.63" y="17.70" font-size="6.22" font-weight="bold" fill="#000" stroke="#000" stroke-width="0.12" textLength="58.68" lengthAdjust="spacingAndGlyphs">Larger difference</text>
<text x="621.20" y="25.10" font-size="6.24" font-weight="bold" fill="#000" stroke="#000" stroke-width="0.12" textLength="43.49" lengthAdjust="spacingAndGlyphs">in responder</text>
<line x1="28.50" y1="271.30" x2="28.50" y2="355.60" stroke="#262626" stroke-width="1.0" />
<line x1="28.00" y1="355.10" x2="158.70" y2="355.10" stroke="#262626" stroke-width="1.0" />
<line x1="24.90" y1="352.00" x2="28.50" y2="352.00" stroke="#262626" stroke-width="1.0" />
<text x="20.33" y="355.00" font-size="6.90" stroke="#262626" stroke-width="0.12" textLength="3.92" lengthAdjust="spacingAndGlyphs">0</text>
<line x1="24.90" y1="324.00" x2="28.50" y2="324.00" stroke="#262626" stroke-width="1.0" />
<text x="16.11" y="327.00" font-size="6.90" stroke="#262626" stroke-width="0.12" textLength="8.16" lengthAdjust="spacingAndGlyphs">10</text>
<line x1="24.90" y1="296.00" x2="28.50" y2="296.00" stroke="#262626" stroke-width="1.0" />
<text x="16.02" y="299.00" font-size="6.90" stroke="#262626" stroke-width="0.12" textLength="8.25" lengthAdjust="spacingAndGlyphs">20</text>
<line x1="34.40" y1="355.10" x2="34.40" y2="358.70" stroke="#262626" stroke-width="1.0" />
<text x="32.43" y="365.50" font-size="6.90" stroke="#262626" stroke-width="0.12" textLength="3.92" lengthAdjust="spacingAndGlyphs">0</text>
<line x1="56.30" y1="355.10" x2="56.30" y2="358.70" stroke="#262626" stroke-width="1.0" />
<text x="54.44" y="365.50" font-size="6.90" stroke="#262626" stroke-width="0.12" textLength="3.73" lengthAdjust="spacingAndGlyphs">5</text>
<line x1="78.20" y1="355.10" x2="78.20" y2="358.70" stroke="#262626" stroke-width="1.0" />
<text x="73.98" y="365.50" font-size="6.90" stroke="#262626" stroke-width="0.12" textLength="8.16" lengthAdjust="spacingAndGlyphs">10</text>
<line x1="100.10" y1="355.10" x2="100.10" y2="358.70" stroke="#262626" stroke-width="1.0" />
<text x="95.96" y="365.50" font-size="6.90" stroke="#262626" stroke-width="0.12" textLength="8.05" lengthAdjust="spacingAndGlyphs">15</text>
<line x1="122.00" y1="355.10" x2="122.00" y2="358.70" stroke="#262626" stroke-width="1.0" />
<text x="117.83" y="365.50" font-size="6.90" stroke="#262626" stroke-width="0.12" textLength="8.25" lengthAdjust="spacingAndGlyphs">20</text>
<line x1="143.90" y1="355.10" x2="143.90" y2="358.70" stroke="#262626" stroke-width="1.0" />
<text x="139.80" y="365.50" font-size="6.90" stroke="#262626" stroke-width="0.12" textLength="8.15" lengthAdjust="spacingAndGlyphs">25</text>
<line x1="34.40" y1="352.00" x2="152.66" y2="276.40" stroke="#b0503a" stroke-width="1.15" stroke-dasharray="2.2 1.3"/>
<circle cx="34.40" cy="322.88" r="2.15" fill="#2878b4"/>
<circle cx="34.40" cy="326.52" r="2.15" fill="#2878b4"/>
<circle cx="43.16" cy="330.16" r="2.15" fill="#2878b4"/>
<circle cx="47.54" cy="311.68" r="2.15" fill="#2878b4"/>
<circle cx="47.54" cy="317.00" r="2.15" fill="#2878b4"/>
<circle cx="47.54" cy="319.24" r="2.15" fill="#2878b4"/>
<circle cx="47.54" cy="321.48" r="2.15" fill="#2878b4"/>
<circle cx="47.54" cy="322.88" r="2.15" fill="#2878b4"/>
<circle cx="51.92" cy="318.12" r="2.15" fill="#2878b4"/>
<circle cx="51.92" cy="327.92" r="2.15" fill="#2878b4"/>
<circle cx="56.30" cy="317.00" r="2.15" fill="#2878b4"/>
<circle cx="56.30" cy="328.20" r="2.15" fill="#2878b4"/>
<circle cx="60.68" cy="315.04" r="2.15" fill="#2878b4"/>
<circle cx="60.68" cy="322.60" r="2.15" fill="#2878b4"/>
<circle cx="65.06" cy="315.60" r="2.15" fill="#2878b4"/>
<circle cx="73.82" cy="301.60" r="2.15" fill="#2878b4"/>
<circle cx="73.82" cy="322.32" r="2.15" fill="#2878b4"/>
<circle cx="78.20" cy="322.32" r="2.15" fill="#2878b4"/>
<circle cx="91.34" cy="317.00" r="2.15" fill="#2878b4"/>
<circle cx="91.34" cy="328.20" r="2.15" fill="#2878b4"/>
<circle cx="95.72" cy="319.24" r="2.15" fill="#2878b4"/>
<circle cx="95.72" cy="321.48" r="2.15" fill="#2878b4"/>
<circle cx="95.72" cy="335.48" r="2.15" fill="#2878b4"/>
<circle cx="95.72" cy="318.12" r="2.15" fill="#2878b4"/>
<circle cx="100.10" cy="313.08" r="2.15" fill="#2878b4"/>
<circle cx="100.10" cy="314.48" r="2.15" fill="#2878b4"/>
<circle cx="100.10" cy="318.12" r="2.15" fill="#2878b4"/>
<circle cx="104.48" cy="312.80" r="2.15" fill="#2878b4"/>
<circle cx="108.86" cy="312.52" r="2.15" fill="#2878b4"/>
<circle cx="108.86" cy="321.20" r="2.15" fill="#2878b4"/>
<circle cx="108.86" cy="322.60" r="2.15" fill="#2878b4"/>
<circle cx="113.24" cy="311.68" r="2.15" fill="#2878b4"/>
<circle cx="113.24" cy="313.92" r="2.15" fill="#2878b4"/>
<circle cx="113.24" cy="282.00" r="2.15" fill="#2878b4"/>
<circle cx="113.24" cy="294.88" r="2.15" fill="#2878b4"/>
<circle cx="117.62" cy="295.72" r="2.15" fill="#2878b4"/>
<circle cx="117.62" cy="299.92" r="2.15" fill="#2878b4"/>
<circle cx="117.62" cy="316.72" r="2.15" fill="#2878b4"/>
<circle cx="126.38" cy="296.28" r="2.15" fill="#2878b4"/>
<circle cx="126.38" cy="298.52" r="2.15" fill="#2878b4"/>
<circle cx="126.38" cy="317.56" r="2.15" fill="#2878b4"/>
<circle cx="126.38" cy="318.96" r="2.15" fill="#2878b4"/>
<circle cx="130.76" cy="298.52" r="2.15" fill="#2878b4"/>
<circle cx="130.76" cy="300.20" r="2.15" fill="#2878b4"/>
<circle cx="130.76" cy="313.64" r="2.15" fill="#2878b4"/>
<circle cx="135.14" cy="275.28" r="2.15" fill="#2878b4"/>
<circle cx="135.14" cy="291.80" r="2.15" fill="#2878b4"/>
<circle cx="135.14" cy="295.16" r="2.15" fill="#2878b4"/>
<circle cx="139.52" cy="285.08" r="2.15" fill="#2878b4"/>
<circle cx="143.90" cy="286.20" r="2.15" fill="#2878b4"/>
<circle cx="143.90" cy="300.48" r="2.15" fill="#2878b4"/>
<circle cx="148.28" cy="289.00" r="2.15" fill="#2878b4"/>
<circle cx="152.66" cy="278.36" r="2.15" fill="#2878b4"/>
<text x="47.80" y="271.10" font-size="8.62" font-weight="bold" fill="#000" stroke="#000" stroke-width="0.12" textLength="92.39" lengthAdjust="spacingAndGlyphs">Total severity score</text>
<text x="-34.56" y="316.55" font-size="8.07" stroke="#262626" stroke-width="0.12" textLength="94.17" lengthAdjust="spacingAndGlyphs" transform="rotate(-90 12.70 316.55)">Predicted severity score</text>
<text x="53.82" y="374.40" font-size="8.43" stroke="#262626" stroke-width="0.12" textLength="77.66" lengthAdjust="spacingAndGlyphs">True severity score</text>
<rect x="208.80" y="290.70" width="19.00" height="5.10" fill="#9dc2f0" />
<rect x="208.80" y="300.90" width="19.00" height="5.70" fill="#8ebdf1" />
<rect x="208.80" y="306.00" width="19.60" height="5.70" fill="#8ebdf1" />
<rect x="208.80" y="311.10" width="19.60" height="5.70" fill="#61aff6" />
<rect x="208.80" y="316.20" width="19.60" height="5.70" fill="#31a3f3" />
<rect x="208.80" y="321.30" width="19.60" height="5.70" fill="#337bb5" />
<rect x="208.80" y="326.40" width="19.60" height="5.70" fill="#3d546e" />
<rect x="208.80" y="331.50" width="19.60" height="5.70" fill="#337bb5" />
<rect x="208.80" y="336.60" width="19.60" height="5.70" fill="#31a3f3" />
<rect x="208.80" y="341.70" width="19.60" height="5.70" fill="#8ebdf1" />
<rect x="208.80" y="346.80" width="19.00" height="5.10" fill="#9dc2f0" />
<rect x="227.80" y="306.00" width="19.60" height="5.70" fill="#9dc2f0" />
<rect x="227.80" y="311.10" width="19.60" height="5.70" fill="#8ebdf1" />
<rect x="227.80" y="316.20" width="19.60" height="5.70" fill="#7bb6f3" />
<rect x="227.80" y="321.30" width="19.60" height="5.70" fill="#61aff6" />
<rect x="227.80" y="326.40" width="19.60" height="5.70" fill="#5badf6" />
<rect x="227.80" y="331.50" width="19.60" height="5.70" fill="#5badf6" />
<rect x="227.80" y="336.60" width="19.00" height="5.70" fill="#8ebdf1" />
<rect x="227.80" y="341.70" width="19.00" height="5.10" fill="#9dc2f0" />
<rect x="246.80" y="275.40" width="19.00" height="5.10" fill="#9dc2f0" />
<rect x="246.80" y="295.80" width="19.00" height="5.10" fill="#8ebdf1" />
<rect x="246.80" y="306.00" width="19.00" height="5.70" fill="#8ebdf1" />
<rect x="246.80" y="311.10" width="19.60" height="5.70" fill="#5badf6" />
<rect x="246.80" y="316.20" width="19.60" height="5.70" fill="#5badf6" />
<rect x="246.80" y="321.30" width="19.60" height="5.70" fill="#5badf6" />
<rect x="246.80" y="326.40" width="19.60" height="5.70" fill="#8ebdf1" />
<rect x="246.80" y="331.50" width="19.00" height="5.10" fill="#8ebdf1" />
<rect x="265.80" y="300.90" width="19.00" height="5.10" fill="#8ebdf1" />
<rect x="265.80" y="311.10" width="19.00" height="5.70" fill="#94bff1" />
<rect x="265.80" y="316.20" width="19.00" height="5.70" fill="#94bff1" />
<rect x="265.80" y="321.30" width="19.00" height="5.70" fill="#94bff1" />
<rect x="265.80" y="326.40" width="19.00" height="5.10" fill="#94bff1" />
<rect x="284.80" y="290.70" width="19.00" height="5.10" fill="#9dc2f0" />
<line x1="217.30" y1="328.20" x2="294.80" y2="307.10" stroke="#111" stroke-width="1.0" />
<line x1="203.70" y1="270.80" x2="203.70" y2="356.70" stroke="#262626" stroke-width="1.0" />
<line x1="203.20" y1="356.20" x2="309.00" y2="356.20" stroke="#262626" stroke-width="1.0" />
<line x1="200.10" y1="275.90" x2="203.70" y2="275.90" stroke="#262626" stroke-width="1.0" />
<text x="195.22" y="278.30" font-size="6.95" stroke="#262626" stroke-width="0.12" textLength="3.84" lengthAdjust="spacingAndGlyphs">2</text>
<line x1="200.10" y1="292.70" x2="203.70" y2="292.70" stroke="#262626" stroke-width="1.0" />
<text x="195.26" y="295.10" font-size="6.95" stroke="#262626" stroke-width="0.12" textLength="3.75" lengthAdjust="spacingAndGlyphs">1</text>
<line x1="200.10" y1="309.50" x2="203.70" y2="309.50" stroke="#262626" stroke-width="1.0" />
<text x="195.01" y="311.90" font-size="6.95" stroke="#262626" stroke-width="0.12" textLength="3.95" lengthAdjust="spacingAndGlyphs">0</text>
<line x1="200.10" y1="326.30" x2="203.70" y2="326.30" stroke="#262626" stroke-width="1.0" />
<text x="189.65" y="328.70" font-size="6.95" stroke="#262626" stroke-width="0.12" textLength="9.43" lengthAdjust="spacingAndGlyphs">−1</text>
<line x1="200.10" y1="343.10" x2="203.70" y2="343.10" stroke="#262626" stroke-width="1.0" />
<text x="189.72" y="345.50" font-size="6.95" stroke="#262626" stroke-width="0.12" textLength="9.40" lengthAdjust="spacingAndGlyphs">−2</text>
<line x1="218.30" y1="356.20" x2="218.30" y2="359.80" stroke="#262626" stroke-width="1.0" />
<text x="216.31" y="365.80" font-size="6.95" stroke="#262626" stroke-width="0.12" textLength="3.95" lengthAdjust="spacingAndGlyphs">0</text>
<line x1="256.30" y1="356.20" x2="256.30" y2="359.80" stroke="#262626" stroke-width="1.0" />
<text x="254.39" y="365.80" font-size="6.95" stroke="#262626" stroke-width="0.12" textLength="3.84" lengthAdjust="spacingAndGlyphs">2</text>
<line x1="294.30" y1="356.20" x2="294.30" y2="359.80" stroke="#262626" stroke-width="1.0" />
<text x="292.37" y="365.80" font-size="6.95" stroke="#262626" stroke-width="0.12" textLength="3.90" lengthAdjust="spacingAndGlyphs">4</text>
<text x="220.80" y="270.10" font-size="8.33" font-weight="bold" fill="#000" stroke="#000" stroke-width="0.12" textLength="78.44" lengthAdjust="spacingAndGlyphs">Torticollis tremor</text>
<text x="136.29" y="313.75" font-size="8.02" stroke="#262626" stroke-width="0.12" textLength="81.02" lengthAdjust="spacingAndGlyphs" transform="rotate(-90 176.80 313.75)">oscillation amplitude</text>
<text x="160.22" y="312.50" font-size="8.09" stroke="#262626" stroke-width="0.12" textLength="51.98" lengthAdjust="spacingAndGlyphs" transform="rotate(-90 186.20 312.50)">(log degrees)</text>
<text x="229.71" y="374.60" font-size="8.80" stroke="#262626" stroke-width="0.12" textLength="55.50" lengthAdjust="spacingAndGlyphs">Tremor score</text>
<defs><linearGradient id="cbt" x1="0" y1="0" x2="0" y2="1"><stop offset="0.00" stop-color="#3d546e"/><stop offset="0.10" stop-color="#3d6083"/><stop offset="0.20" stop-color="#3a6c99"/><stop offset="0.30" stop-color="#3578af"/><stop offset="0.40" stop-color="#2f84c4"/><stop offset="0.50" stop-color="#2a90d8"/><stop offset="0.60" stop-color="#2c9cea"/><stop offset="0.70" stop-color="#41a8f7"/><stop offset="0.80" stop-color="#70b3f4"/><stop offset="0.90" stop-color="#92bef1"/><stop offset="1.00" stop-color="#acc9ee"/></linearGradient></defs>
<rect x="315.10" y="281.20" width="3.80" height="64.40" fill="url(#cbt)" stroke="#262626" stroke-width="0.9"/>
<line x1="318.90" y1="345.60" x2="322.20" y2="345.60" stroke="#262626" stroke-width="1.0" />
<text x="323.45" y="348.00" font-size="6.95" stroke="#262626" stroke-width="0.12" textLength="3.95" lengthAdjust="spacingAndGlyphs">0</text>
<line x1="318.90" y1="319.15" x2="322.20" y2="319.15" stroke="#262626" stroke-width="1.0" />
<text x="323.49" y="321.55" font-size="6.95" stroke="#262626" stroke-width="0.12" textLength="8.22" lengthAdjust="spacingAndGlyphs">10</text>
<line x1="318.90" y1="292.70" x2="322.20" y2="292.70" stroke="#262626" stroke-width="1.0" />
<text x="323.40" y="295.10" font-size="6.95" stroke="#262626" stroke-width="0.12" textLength="8.31" lengthAdjust="spacingAndGlyphs">20</text>
<text x="324.13" y="314.40" font-size="6.49" stroke="#262626" stroke-width="0.12" textLength="20.95" lengthAdjust="spacingAndGlyphs" transform="rotate(90 334.62 314.40)">counts</text>
<text x="275.20" y="345.60" font-size="6.60" stroke="#262626" stroke-width="0.12" textLength="26.08" lengthAdjust="spacingAndGlyphs">r = 0.44</text>
<text x="274.82" y="351.80" font-size="6.56" stroke="#262626" stroke-width="0.12" textLength="33.63" lengthAdjust="spacingAndGlyphs">p=8.39e-9</text>
<rect x="382.80" y="291.84" width="19.10" height="6.08" fill="#f4b29b" />
<rect x="382.80" y="297.32" width="19.10" height="6.08" fill="#f5ad91" />
<rect x="382.80" y="302.80" width="19.10" height="6.08" fill="#f99b71" />
<rect x="382.80" y="308.28" width="19.70" height="6.08" fill="#fc8d50" />
<rect x="382.80" y="313.76" width="19.70" height="6.08" fill="#fc8944" />
<rect x="382.80" y="319.24" width="19.70" height="6.08" fill="#c2621a" />
<rect x="382.80" y="324.72" width="19.70" height="6.08" fill="#794a35" />
<rect x="382.80" y="330.20" width="19.70" height="6.08" fill="#b05b24" />
<rect x="382.80" y="335.68" width="19.70" height="6.08" fill="#f97c0f" />
<rect x="382.80" y="341.16" width="19.10" height="6.08" fill="#f4b097" />
<rect x="382.80" y="346.64" width="19.10" height="5.48" fill="#f4b29b" />
<rect x="401.90" y="308.28" width="19.70" height="6.08" fill="#f7a584" />
<rect x="401.90" y="313.76" width="19.70" height="6.08" fill="#f8a17d" />
<rect x="401.90" y="319.24" width="19.70" height="6.08" fill="#f4b097" />
<rect x="401.90" y="324.72" width="19.70" height="6.08" fill="#f99b71" />
<rect x="401.90" y="330.20" width="19.70" height="6.08" fill="#f57908" />
<rect x="401.90" y="335.68" width="19.70" height="5.48" fill="#f7a584" />
<rect x="421.00" y="275.40" width="19.10" height="5.48" fill="#f4b29b" />
<rect x="421.00" y="291.84" width="19.10" height="6.08" fill="#f4b29b" />
<rect x="421.00" y="297.32" width="19.10" height="6.08" fill="#f4b097" />
<rect x="421.00" y="302.80" width="19.10" height="6.08" fill="#f99a6e" />
<rect x="421.00" y="308.28" width="19.70" height="6.08" fill="#f4b097" />
<rect x="421.00" y="313.76" width="19.70" height="6.08" fill="#f7a584" />
<rect x="421.00" y="319.24" width="19.70" height="6.08" fill="#e36f01" />
<rect x="421.00" y="324.72" width="19.70" height="6.08" fill="#f4b097" />
<rect x="421.00" y="330.20" width="19.70" height="6.08" fill="#f4b097" />
<rect x="421.00" y="335.68" width="19.10" height="5.48" fill="#f4b097" />
<rect x="440.10" y="308.28" width="19.10" height="6.08" fill="#f99b71" />
<rect x="440.10" y="313.76" width="19.10" height="6.08" fill="#f7a584" />
<rect x="440.10" y="319.24" width="19.10" height="6.08" fill="#f4b097" />
<rect x="440.10" y="324.72" width="19.10" height="6.08" fill="#f4b097" />
<rect x="440.10" y="330.20" width="19.10" height="5.48" fill="#f4b097" />
<rect x="459.20" y="297.32" width="19.10" height="6.08" fill="#f4b097" />
<rect x="459.20" y="302.80" width="19.10" height="5.48" fill="#f4b097" />
<line x1="392.10" y1="327.20" x2="468.30" y2="310.40" stroke="#111" stroke-width="1.0" />
<line x1="378.30" y1="271.10" x2="378.30" y2="356.70" stroke="#262626" stroke-width="1.0" />
<line x1="377.80" y1="356.20" x2="482.30" y2="356.20" stroke="#262626" stroke-width="1.0" />
<line x1="374.70" y1="275.20" x2="378.30" y2="275.20" stroke="#262626" stroke-width="1.0" />
<text x="369.82" y="277.60" font-size="6.95" stroke="#262626" stroke-width="0.12" textLength="3.84" lengthAdjust="spacingAndGlyphs">2</text>
<line x1="374.70" y1="290.30" x2="378.30" y2="290.30" stroke="#262626" stroke-width="1.0" />
<text x="369.86" y="292.70" font-size="6.95" stroke="#262626" stroke-width="0.12" textLength="3.75" lengthAdjust="spacingAndGlyphs">1</text>
<line x1="374.70" y1="305.40" x2="378.30" y2="305.40" stroke="#262626" stroke-width="1.0" />
<text x="369.61" y="307.80" font-size="6.95" stroke="#262626" stroke-width="0.12" textLength="3.95" lengthAdjust="spacingAndGlyphs">0</text>
<line x1="374.70" y1="320.50" x2="378.30" y2="320.50" stroke="#262626" stroke-width="1.0" />
<text x="364.25" y="322.90" font-size="6.95" stroke="#262626" stroke-width="0.12" textLength="9.43" lengthAdjust="spacingAndGlyphs">−1</text>
<line x1="374.70" y1="335.60" x2="378.30" y2="335.60" stroke="#262626" stroke-width="1.0" />
<text x="364.32" y="338.00" font-size="6.95" stroke="#262626" stroke-width="0.12" textLength="9.40" lengthAdjust="spacingAndGlyphs">−2</text>
<line x1="374.70" y1="350.70" x2="378.30" y2="350.70" stroke="#262626" stroke-width="1.0" />
<text x="364.18" y="353.10" font-size="6.95" stroke="#262626" stroke-width="0.12" textLength="9.46" lengthAdjust="spacingAndGlyphs">−3</text>
<line x1="392.20" y1="356.20" x2="392.20" y2="359.80" stroke="#262626" stroke-width="1.0" />
<text x="390.21" y="365.80" font-size="6.95" stroke="#262626" stroke-width="0.12" textLength="3.95" lengthAdjust="spacingAndGlyphs">0</text>
<line x1="430.50" y1="356.20" x2="430.50" y2="359.80" stroke="#262626" stroke-width="1.0" />
<text x="428.59" y="365.80" font-size="6.95" stroke="#262626" stroke-width="0.12" textLength="3.84" lengthAdjust="spacingAndGlyphs">2</text>
<line x1="468.80" y1="356.20" x2="468.80" y2="359.80" stroke="#262626" stroke-width="1.0" />
<text x="466.87" y="365.80" font-size="6.95" stroke="#262626" stroke-width="0.12" textLength="3.90" lengthAdjust="spacingAndGlyphs">4</text>
<text x="393.26" y="269.20" font-size="8.44" font-weight="bold" fill="#000" stroke="#000" stroke-width="0.12" textLength="82.66" lengthAdjust="spacingAndGlyphs">Latercollis tremor</text>
<text x="310.89" y="313.90" font-size="8.02" stroke="#262626" stroke-width="0.12" textLength="81.02" lengthAdjust="spacingAndGlyphs" transform="rotate(-90 351.40 313.90)">oscillation amplitude</text>
<text x="334.82" y="312.65" font-size="8.09" stroke="#262626" stroke-width="0.12" textLength="51.98" lengthAdjust="spacingAndGlyphs" transform="rotate(-90 360.80 312.65)">(log degrees)</text>
<text x="401.81" y="374.60" font-size="8.90" stroke="#262626" stroke-width="0.12" textLength="56.10" lengthAdjust="spacingAndGlyphs">Tremor score</text>
<defs><linearGradient id="cbl" x1="0" y1="0" x2="0" y2="1"><stop offset="0.00" stop-color="#734835"/><stop offset="0.10" stop-color="#884e32"/><stop offset="0.20" stop-color="#9d552c"/><stop offset="0.30" stop-color="#b25c23"/><stop offset="0.40" stop-color="#c66317"/><stop offset="0.50" stop-color="#d96b06"/><stop offset="0.60" stop-color="#ec7401"/><stop offset="0.70" stop-color="#fd7e14"/><stop offset="0.80" stop-color="#fa9360"/><stop offset="0.90" stop-color="#f6a788"/><stop offset="1.00" stop-color="#f2baa6"/></linearGradient></defs>
<rect x="489.40" y="282.00" width="3.90" height="64.20" fill="url(#cbl)" stroke="#262626" stroke-width="0.9"/>
<line x1="493.30" y1="346.20" x2="496.60" y2="346.20" stroke="#262626" stroke-width="1.0" />
<text x="497.85" y="348.60" font-size="6.95" stroke="#262626" stroke-width="0.12" textLength="3.95" lengthAdjust="spacingAndGlyphs">0</text>
<line x1="493.30" y1="320.52" x2="496.60" y2="320.52" stroke="#262626" stroke-width="1.0" />
<text x="497.89" y="322.92" font-size="6.95" stroke="#262626" stroke-width="0.12" textLength="8.22" lengthAdjust="spacingAndGlyphs">10</text>
<line x1="493.30" y1="294.84" x2="496.60" y2="294.84" stroke="#262626" stroke-width="1.0" />
<text x="497.80" y="297.24" font-size="6.95" stroke="#262626" stroke-width="0.12" textLength="8.31" lengthAdjust="spacingAndGlyphs">20</text>
<text x="497.33" y="316.20" font-size="6.49" stroke="#262626" stroke-width="0.12" textLength="20.95" lengthAdjust="spacingAndGlyphs" transform="rotate(90 507.82 316.20)">counts</text>
<text x="446.31" y="346.30" font-size="6.60" stroke="#262626" stroke-width="0.12" textLength="25.99" lengthAdjust="spacingAndGlyphs">r = 0.35</text>
<text x="446.32" y="352.20" font-size="6.49" stroke="#262626" stroke-width="0.12" textLength="37.29" lengthAdjust="spacingAndGlyphs">p=5.634e-6</text>
<rect x="554.30" y="280.95" width="19.15" height="6.55" fill="#50cb50" />
<rect x="554.30" y="286.90" width="19.15" height="6.55" fill="#67d767" />
<rect x="554.30" y="292.85" width="19.75" height="6.55" fill="#67d767" />
<rect x="554.30" y="298.80" width="19.75" height="6.55" fill="#3fbe3f" />
<rect x="554.30" y="304.75" width="19.75" height="6.55" fill="#50cb50" />
<rect x="554.30" y="310.70" width="19.75" height="6.55" fill="#318731" />
<rect x="554.30" y="316.65" width="19.75" height="6.55" fill="#328532" />
<rect x="554.30" y="322.60" width="19.75" height="6.55" fill="#395a39" />
<rect x="554.30" y="328.55" width="19.75" height="6.55" fill="#376c37" />
<rect x="554.30" y="334.50" width="19.75" height="6.55" fill="#3fbe3f" />
<rect x="554.30" y="340.45" width="19.15" height="6.55" fill="#50cb50" />
<rect x="554.30" y="346.40" width="19.15" height="5.95" fill="#56ce56" />
<rect x="573.45" y="292.85" width="19.75" height="6.55" fill="#67d767" />
<rect x="573.45" y="298.80" width="19.75" height="6.55" fill="#67d767" />
<rect x="573.45" y="304.75" width="19.75" height="6.55" fill="#50cb50" />
<rect x="573.45" y="310.70" width="19.75" height="6.55" fill="#50cb50" />
<rect x="573.45" y="316.65" width="19.75" height="6.55" fill="#4cc84c" />
<rect x="573.45" y="322.60" width="19.75" height="6.55" fill="#3fbe3f" />
<rect x="573.45" y="328.55" width="19.75" height="6.55" fill="#2ea52e" />
<rect x="573.45" y="334.50" width="19.15" height="5.95" fill="#67d767" />
<rect x="592.60" y="275.00" width="19.15" height="5.95" fill="#67d767" />
<rect x="592.60" y="286.90" width="19.15" height="6.55" fill="#56ce56" />
<rect x="592.60" y="292.85" width="19.75" height="6.55" fill="#4cc84c" />
<rect x="592.60" y="298.80" width="19.75" height="6.55" fill="#67d767" />
<rect x="592.60" y="304.75" width="19.15" height="6.55" fill="#4cc84c" />
<rect x="592.60" y="310.70" width="19.75" height="6.55" fill="#4cc84c" />
<rect x="592.60" y="316.65" width="19.75" height="6.55" fill="#32af32" />
<rect x="592.60" y="322.60" width="19.15" height="6.55" fill="#67d767" />
<rect x="592.60" y="328.55" width="19.15" height="5.95" fill="#67d767" />
<rect x="611.75" y="292.85" width="19.15" height="6.55" fill="#67d767" />
<rect x="611.75" y="298.80" width="19.15" height="5.95" fill="#67d767" />
<rect x="611.75" y="310.70" width="19.15" height="6.55" fill="#56ce56" />
<rect x="611.75" y="316.65" width="19.15" height="5.95" fill="#56ce56" />
<rect x="630.90" y="275.00" width="19.15" height="5.95" fill="#67d767" />
<rect x="630.90" y="286.90" width="19.15" height="5.95" fill="#67d767" />
<line x1="563.60" y1="321.80" x2="640.30" y2="299.70" stroke="#111" stroke-width="1.0" />
<line x1="549.60" y1="270.80" x2="549.60" y2="356.80" stroke="#262626" stroke-width="1.0" />
<line x1="549.10" y1="356.30" x2="654.60" y2="356.30" stroke="#262626" stroke-width="1.0" />
<line x1="546.00" y1="279.30" x2="549.60" y2="279.30" stroke="#262626" stroke-width="1.0" />
<text x="541.16" y="281.70" font-size="6.95" stroke="#262626" stroke-width="0.12" textLength="3.75" lengthAdjust="spacingAndGlyphs">1</text>
<line x1="546.00" y1="302.40" x2="549.60" y2="302.40" stroke="#262626" stroke-width="1.0" />
<text x="540.91" y="304.80" font-size="6.95" stroke="#262626" stroke-width="0.12" textLength="3.95" lengthAdjust="spacingAndGlyphs">0</text>
<line x1="546.00" y1="325.50" x2="549.60" y2="325.50" stroke="#262626" stroke-width="1.0" />
<text x="535.55" y="327.90" font-size="6.95" stroke="#262626" stroke-width="0.12" textLength="9.43" lengthAdjust="spacingAndGlyphs">−1</text>
<line x1="546.00" y1="348.60" x2="549.60" y2="348.60" stroke="#262626" stroke-width="1.0" />
<text x="535.62" y="351.00" font-size="6.95" stroke="#262626" stroke-width="0.12" textLength="9.40" lengthAdjust="spacingAndGlyphs">−2</text>
<line x1="563.90" y1="356.30" x2="563.90" y2="359.90" stroke="#262626" stroke-width="1.0" />
<text x="561.91" y="365.90" font-size="6.95" stroke="#262626" stroke-width="0.12" textLength="3.95" lengthAdjust="spacingAndGlyphs">0</text>
<line x1="602.20" y1="356.30" x2="602.20" y2="359.90" stroke="#262626" stroke-width="1.0" />
<text x="600.29" y="365.90" font-size="6.95" stroke="#262626" stroke-width="0.12" textLength="3.84" lengthAdjust="spacingAndGlyphs">2</text>
<line x1="640.50" y1="356.30" x2="640.50" y2="359.90" stroke="#262626" stroke-width="1.0" />
<text x="638.57" y="365.90" font-size="6.95" stroke="#262626" stroke-width="0.12" textLength="3.90" lengthAdjust="spacingAndGlyphs">4</text>
<text x="553.26" y="268.00" font-size="8.35" font-weight="bold" fill="#000" stroke="#000" stroke-width="0.12" textLength="115.30" lengthAdjust="spacingAndGlyphs">Antero-retrocollis tremor</text>
<text x="482.19" y="313.80" font-size="8.02" stroke="#262626" stroke-width="0.12" textLength="81.02" lengthAdjust="spacingAndGlyphs" transform="rotate(-90 522.70 313.80)">oscillation amplitude</text>
<text x="506.12" y="312.55" font-size="8.09" stroke="#262626" stroke-width="0.12" textLength="51.98" lengthAdjust="spacingAndGlyphs" transform="rotate(-90 532.10 312.55)">(log degrees)</text>
<text x="574.71" y="374.60" font-size="8.80" stroke="#262626" stroke-width="0.12" textLength="55.50" lengthAdjust="spacingAndGlyphs">Tremor score</text>
<defs><linearGradient id="cba" x1="0" y1="0" x2="0" y2="1"><stop offset="0.00" stop-color="#395a39"/><stop offset="0.10" stop-color="#386738"/><stop offset="0.20" stop-color="#357535"/><stop offset="0.30" stop-color="#328332"/><stop offset="0.40" stop-color="#2f912f"/><stop offset="0.50" stop-color="#2d9e2d"/><stop offset="0.60" stop-color="#30ac30"/><stop offset="0.70" stop-color="#39b939"/><stop offset="0.80" stop-color="#49c649"/><stop offset="0.90" stop-color="#5dd25d"/><stop offset="1.00" stop-color="#74dd74"/></linearGradient></defs>
<rect x="661.00" y="281.80" width="3.40" height="63.40" fill="url(#cba)" stroke="#262626" stroke-width="0.9"/>
<line x1="664.40" y1="345.20" x2="667.70" y2="345.20" stroke="#262626" stroke-width="1.0" />
<text x="668.95" y="347.60" font-size="6.95" stroke="#262626" stroke-width="0.12" textLength="3.95" lengthAdjust="spacingAndGlyphs">0</text>
<line x1="664.40" y1="329.35" x2="667.70" y2="329.35" stroke="#262626" stroke-width="1.0" />
<text x="669.04" y="331.75" font-size="6.95" stroke="#262626" stroke-width="0.12" textLength="3.75" lengthAdjust="spacingAndGlyphs">5</text>
<line x1="664.40" y1="313.50" x2="667.70" y2="313.50" stroke="#262626" stroke-width="1.0" />
<text x="668.99" y="315.90" font-size="6.95" stroke="#262626" stroke-width="0.12" textLength="8.22" lengthAdjust="spacingAndGlyphs">10</text>
<line x1="664.40" y1="297.65" x2="667.70" y2="297.65" stroke="#262626" stroke-width="1.0" />
<text x="669.00" y="300.05" font-size="6.95" stroke="#262626" stroke-width="0.12" textLength="8.11" lengthAdjust="spacingAndGlyphs">15</text>
<line x1="664.40" y1="281.80" x2="667.70" y2="281.80" stroke="#262626" stroke-width="1.0" />
<text x="668.90" y="284.20" font-size="6.95" stroke="#262626" stroke-width="0.12" textLength="8.31" lengthAdjust="spacingAndGlyphs">20</text>
<text x="668.93" y="312.00" font-size="6.49" stroke="#262626" stroke-width="0.12" textLength="20.95" lengthAdjust="spacingAndGlyphs" transform="rotate(90 679.42 312.00)">counts</text>
<text x="620.81" y="345.40" font-size="6.57" stroke="#262626" stroke-width="0.12" textLength="26.03" lengthAdjust="spacingAndGlyphs">r = 0.39</text>
<text x="620.52" y="351.80" font-size="6.52" stroke="#262626" stroke-width="0.12" textLength="33.36" lengthAdjust="spacingAndGlyphs">p=2.32e-7</text>
</svg>
</body></html>
